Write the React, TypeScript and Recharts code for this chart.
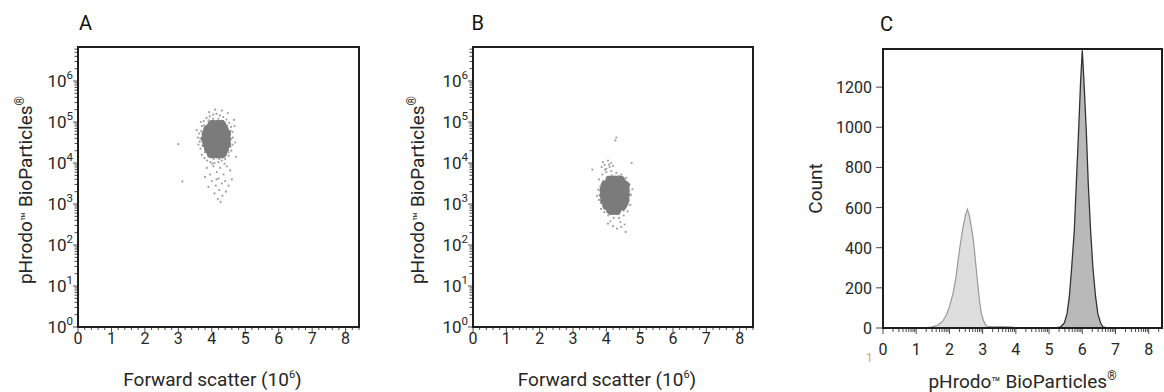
import React from 'react';
import { ScatterChart, Scatter, AreaChart, Area, XAxis, YAxis, Label } from 'recharts';

const FONT = 'Roboto, "Noto Sans", Arial, sans-serif';
const TEXT = '#262626';
const TICK = '#4a4a4a';
const BOX = '#1e1e1e';

// ---------------- data ----------------
// axis tick labels
const fscTicks = [0, 1, 2, 3, 4, 5, 6, 7, 8];
const decadeTicks = [0, 1, 2, 3, 4, 5, 6];
const countTicks = [0, 200, 400, 600, 800, 1000, 1200];
const logTicks = [0, 1, 2, 3, 4, 5, 6, 7, 8];

// Panel A: [forward scatter (10^6), log10 pHrodo intensity] — dense core
const aCore: [number, number][] = [
  [4.02, 4.93], [4.16, 4.93], [4.28, 4.93],
  [3.9, 4.82], [4.05, 4.82], [4.2, 4.82], [4.35, 4.82],
  [3.85, 4.71], [4.0, 4.71], [4.15, 4.71], [4.3, 4.71], [4.42, 4.71],
  [3.83, 4.59], [3.98, 4.59], [4.13, 4.59], [4.28, 4.59], [4.42, 4.59],
  [3.87, 4.47], [4.02, 4.47], [4.17, 4.47], [4.32, 4.47], [4.42, 4.47],
  [3.92, 4.35], [4.07, 4.35], [4.22, 4.35], [4.36, 4.35],
  [4.0, 4.24], [4.15, 4.24], [4.3, 4.24],
];
// Panel A: sparse events
const aSparse: [number, number][] = [
  [3.66, 4.6], [3.68, 4.78], [3.72, 4.42], [3.76, 4.92], [3.8, 4.26], [3.9, 5.04], [3.9, 4.16],
  [4.04, 5.08], [4.06, 4.1], [4.2, 5.08], [4.22, 4.1], [4.34, 5.02], [4.36, 4.16], [4.46, 4.92],
  [4.5, 4.26], [4.56, 4.78], [4.58, 4.58], [4.56, 4.4],
  [3.62, 4.72], [3.64, 4.52], [3.66, 4.35], [3.7, 4.9], [3.7, 4.2], [3.76, 5.02], [3.78, 4.12],
  [3.84, 5.1], [3.86, 4.06], [3.94, 5.14], [3.96, 4.02], [4.04, 5.18], [4.08, 4.0], [4.14, 5.2],
  [4.2, 4.02], [4.24, 5.16], [4.3, 4.06], [4.34, 5.12], [4.4, 4.1], [4.44, 5.06], [4.5, 4.18],
  [4.52, 4.98], [4.58, 4.3], [4.58, 4.88], [4.62, 4.45], [4.63, 4.62], [4.62, 4.76], [3.58, 4.62],
  [3.6, 4.45], [4.68, 4.9], [4.7, 4.5], [4.48, 5.22], [4.3, 5.28], [3.92, 5.24], [4.1, 5.3],
  [4.66, 5.05], [3.55, 4.8], [3.67, 5.0],
  [3.85, 3.88], [3.95, 3.72], [4.05, 3.92], [4.15, 3.78], [4.25, 3.88], [4.35, 3.72], [4.45, 3.92],
  [4.55, 3.82], [4.0, 3.56], [4.2, 3.62], [4.3, 3.5], [4.12, 3.45], [4.4, 3.56], [3.9, 3.42],
  [4.22, 3.34], [4.08, 3.26], [4.32, 3.2], [4.18, 3.12], [4.42, 3.3], [3.8, 3.66], [4.6, 3.6],
  [4.5, 3.45], [4.02, 3.98], [4.38, 3.98], [4.14, 3.6], [4.26, 3.05],
  [3.0, 4.46], [3.12, 3.55], [4.72, 4.15],
];

// Panel B: dense core
const bCore: [number, number][] = [
  [4.12, 3.57], [4.27, 3.57], [4.42, 3.57],
  [3.98, 3.45], [4.13, 3.45], [4.28, 3.45], [4.43, 3.45], [4.55, 3.45],
  [3.95, 3.33], [4.1, 3.33], [4.25, 3.33], [4.4, 3.33], [4.55, 3.33],
  [3.95, 3.21], [4.1, 3.21], [4.25, 3.21], [4.4, 3.21], [4.55, 3.21],
  [3.97, 3.09], [4.12, 3.09], [4.27, 3.09], [4.42, 3.09], [4.54, 3.09],
  [4.04, 2.97], [4.19, 2.97], [4.34, 2.97], [4.47, 2.97],
  [4.15, 2.86], [4.3, 2.86],
];
// Panel B: sparse events
const bSparse: [number, number][] = [
  [3.8, 3.22], [3.82, 3.42], [3.84, 3.02], [3.9, 3.56], [3.92, 2.9], [4.02, 3.66], [4.04, 2.8],
  [4.18, 3.7], [4.2, 2.76], [4.36, 3.68], [4.38, 2.76], [4.5, 3.6], [4.52, 2.84], [4.64, 3.46],
  [4.64, 2.98], [4.7, 3.24],
  [3.78, 3.6], [3.76, 3.35], [3.78, 3.1], [3.84, 2.88], [3.88, 3.72], [4.0, 3.78], [4.15, 3.8],
  [4.3, 3.76], [4.45, 3.72], [4.6, 3.64], [4.7, 3.48], [4.74, 3.22], [4.72, 2.98], [4.64, 2.82],
  [4.52, 2.72], [4.38, 2.66], [4.22, 2.66], [4.06, 2.72], [3.94, 2.8], [4.78, 3.36], [3.72, 3.2],
  [4.12, 2.58], [4.42, 2.56], [3.9, 2.95], [4.66, 3.1],
  [3.95, 3.95], [4.05, 4.06], [4.1, 3.9], [3.9, 4.02], [4.2, 3.93], [4.0, 3.86], [4.14, 4.0],
  [3.86, 3.9], [3.58, 3.84], [4.76, 4.0], [4.27, 4.55], [4.3, 4.62], [4.08, 3.96], [3.96, 3.84],
  [4.2, 2.46], [4.55, 2.5], [4.32, 2.4], [4.58, 2.32], [4.05, 2.52], [4.45, 2.44],
];

// Panel C: histograms [log pHrodo position, count]
const lightHist: [number, number][] = [
  [1.2, 0], [1.45, 4], [1.66, 15], [1.8, 35], [1.91, 65], [2.0, 105], [2.11, 174], [2.2, 255],
  [2.26, 338], [2.34, 430], [2.41, 504], [2.48, 560], [2.54, 592], [2.6, 560], [2.66, 504],
  [2.72, 440], [2.76, 373], [2.81, 290], [2.86, 205], [2.91, 130], [2.96, 73], [3.03, 35],
  [3.11, 10], [3.3, 6], [3.6, 7], [3.9, 4], [4.05, 0],
];
const darkHist: [number, number][] = [
  [5.2, 0], [5.35, 6], [5.46, 25], [5.54, 70], [5.61, 156], [5.68, 300], [5.76, 487], [5.82, 720],
  [5.89, 985], [5.95, 1230], [6.0, 1383], [6.05, 1230], [6.12, 985], [6.18, 720], [6.25, 487],
  [6.32, 300], [6.4, 156], [6.47, 70], [6.55, 25], [6.62, 6], [6.75, 0],
];

// ---------------- helpers ----------------
const X_MAX = 8.4;
const LOG_Y_MAX = 6.83;
const COUNT_MAX = 1390;

const isInt = (v: number) => Math.abs(v - Math.round(v)) < 1e-6;
const linMinor = (step: number, max: number) => {
  const out: number[] = [];
  for (let i = 1; i * step < max + 1e-9; i++) {
    const v = +(i * step).toFixed(4);
    if (!isInt(v)) out.push(v);
  }
  return out;
};
const logMinor = (max: number) => {
  const out: number[] = [];
  for (let n = 0; n <= Math.floor(max); n++) {
    for (let k = 2; k <= 9; k++) {
      const v = n + Math.log10(k);
      if (v < max) out.push(v);
    }
  }
  return out;
};

const toPts = (arr: [number, number][]) => arr.map(([x, y]) => ({ x, y }));
const histTable = [
  ...lightHist.map(([x, c]) => ({ x, light: c })),
  ...darkHist.map(([x, c]) => ({ x, dark: c })),
].sort((a, b) => a.x - b.x);

const fscAxisTicks = [...fscTicks, ...linMinor(0.2, X_MAX)];
const decadeAxisTicks = [...decadeTicks, ...logMinor(LOG_Y_MAX)];
const countAxisTicks = [...countTicks, ...linMinor(50, 1350).filter((v) => v % 200 !== 0)];
const logAxisTicks = [...logTicks, ...logMinor(X_MAX)];

const boxLine = { stroke: BOX, strokeWidth: 2, strokeLinecap: 'square' as const };

// ---------------- tick renderers ----------------
const makeXTick = (labelDy: number, majorLen: number, minorLen: number) => (props: any) => {
  const { x, y, payload } = props;
  const v = payload.value as number;
  const major = isInt(v);
  return (
    <g>
      <line x1={x} x2={x} y1={y + 1} y2={y + 1 + (major ? majorLen : minorLen)} stroke={TICK} strokeWidth={1} />
      {major && (
        <text x={x} y={y + labelDy} textAnchor="middle" fontSize={16} fontFamily={FONT} fill={TEXT}>
          {Math.round(v)}
        </text>
      )}
    </g>
  );
};

const DecadeTick = (props: any) => {
  const { x, y, payload } = props;
  const v = payload.value as number;
  const major = isInt(v);
  return (
    <g>
      <line x1={x - 1} x2={x - 1 - (major ? 4 : 2.5)} y1={y} y2={y} stroke={TICK} strokeWidth={1} />
      {major && (
        <text x={x - 5} y={y + 6} textAnchor="end" fontSize={17} fontFamily={FONT} fill={TEXT}>
          10
          <tspan dy={-8} fontSize={11.5}>
            {Math.round(v)}
          </tspan>
        </text>
      )}
    </g>
  );
};

const CountTick = (props: any) => {
  const { x, y, payload } = props;
  const v = payload.value as number;
  const major = v % 200 === 0;
  return (
    <g>
      <line x1={x - 1} x2={x - 1 - (major ? 6 : 3.5)} y1={y} y2={y} stroke={TICK} strokeWidth={1} />
      {major && (
        <text x={x - 11} y={y + 6} textAnchor="end" fontSize={16} fontFamily={FONT} fill={TEXT}>
          {v}
        </text>
      )}
    </g>
  );
};

// ---------------- titles ----------------
const PhrodoText = ({ x, y, rotate }: { x: number; y: number; rotate: boolean }) => (
  <text
    transform={rotate ? `translate(${x},${y}) rotate(-90)` : `translate(${x},${y})`}
    x={0}
    y={rotate ? 6.7 : 0}
    textAnchor="middle"
    fontSize={19}
    fontFamily={FONT}
    fill={TEXT}
  >
    pHrodo
    <tspan fontSize={15}>™</tspan>
    <tspan fontSize={19}> BioParticles</tspan>
    <tspan fontSize={12} dy={-8}>®</tspan>
  </text>
);

const yPhrodoLabel = (cx: number) => (p: any) => {
  const vb = p.viewBox;
  return <PhrodoText x={cx} y={vb.y + vb.height / 2 + 3} rotate />;
};

const xFscLabel = (p: any) => {
  const vb = p.viewBox;
  return (
    <text x={vb.x + vb.width / 2 - 6} y={vb.y + vb.height} textAnchor="middle" fontSize={19} fontFamily={FONT} fill={TEXT}>
      Forward scatter (10
      <tspan fontSize={11} dy={-8}>6</tspan>
      <tspan dy={8}>)</tspan>
    </text>
  );
};

const countLabel = (p: any) => {
  const vb = p.viewBox;
  const cy = vb.y + vb.height / 2;
  return (
    <text transform={`translate(35,${cy}) rotate(-90)`} x={0} y={6.7} textAnchor="middle" fontSize={19} fontFamily={FONT} fill={TEXT}>
      Count
    </text>
  );
};

const xPhrodoLabel = (p: any) => {
  const vb = p.viewBox;
  return <PhrodoText x={vb.x + vb.width / 2} y={vb.y + vb.height - 2} rotate={false} />;
};

// ---------------- panels ----------------
const coreShape = (p: any) => <circle cx={p.cx} cy={p.cy} r={5.2} fill="#7b7b7b" />;
const sparseShape = (p: any) => <circle cx={p.cx} cy={p.cy} r={1.1} fill="#8f8f8f" fillOpacity={0.85} />;

const DotPlot = ({
  core,
  sparse,
  left,
  yAxisWidth,
  marginRight,
  yLabelX,
}: {
  core: [number, number][];
  sparse: [number, number][];
  left: number;
  yAxisWidth: number;
  marginRight: number;
  yLabelX: number;
}) => (
  <div style={{ position: 'absolute', left, top: 0 }}>
    <ScatterChart width={390} height={392} margin={{ top: 46, right: marginRight, bottom: 6, left: 0 }}>
      <XAxis
        type="number"
        dataKey="x"
        domain={[0, X_MAX]}
        ticks={fscAxisTicks}
        interval={0}
        allowDataOverflow
        axisLine={boxLine}
        tickLine={false}
        tickSize={0}
        tickMargin={0}
        height={59}
        tick={makeXTick(16.5, 4, 2)}
      >
        <Label content={xFscLabel} />
      </XAxis>
      <XAxis xAxisId="top" orientation="top" type="number" domain={[0, X_MAX]} height={1} tick={false} tickLine={false} axisLine={boxLine} />
      <YAxis
        type="number"
        dataKey="y"
        domain={[0, LOG_Y_MAX]}
        ticks={decadeAxisTicks}
        interval={0}
        allowDataOverflow
        axisLine={boxLine}
        tickLine={false}
        tickSize={0}
        tickMargin={0}
        width={yAxisWidth}
        tick={DecadeTick}
      >
        <Label content={yPhrodoLabel(yLabelX)} />
      </YAxis>
      <YAxis yAxisId="right" orientation="right" type="number" domain={[0, LOG_Y_MAX]} width={1} tick={false} tickLine={false} axisLine={boxLine} />
      <Scatter data={toPts(sparse)} shape={sparseShape} isAnimationActive={false} />
      <Scatter data={toPts(core)} shape={coreShape} isAnimationActive={false} />
    </ScatterChart>
  </div>
);

const HistPlot = () => (
  <div style={{ position: 'absolute', left: 780, top: 0 }}>
    <AreaChart width={384} height={392} data={histTable} margin={{ top: 48, right: 1, bottom: 2, left: 0 }}>
      <XAxis
        type="number"
        dataKey="x"
        domain={[0, X_MAX]}
        ticks={logAxisTicks}
        interval={0}
        allowDataOverflow
        axisLine={boxLine}
        tickLine={false}
        tickSize={0}
        tickMargin={0}
        height={62}
        tick={makeXTick(27, 5, 3)}
      >
        <Label content={xPhrodoLabel} />
      </XAxis>
      <XAxis xAxisId="top" orientation="top" type="number" domain={[0, X_MAX]} height={1} tick={false} tickLine={false} axisLine={boxLine} />
      <YAxis
        type="number"
        domain={[0, COUNT_MAX]}
        ticks={countAxisTicks}
        interval={0}
        allowDataOverflow
        axisLine={boxLine}
        tickLine={false}
        tickSize={0}
        tickMargin={0}
        width={103}
        tick={CountTick}
      >
        <Label content={countLabel} />
      </YAxis>
      <YAxis yAxisId="right" orientation="right" type="number" domain={[0, COUNT_MAX]} width={1} tick={false} tickLine={false} axisLine={boxLine} />
      <Area
        type="linear"
        dataKey="light"
        connectNulls
        fill="#dedede"
        fillOpacity={1}
        stroke="#9a9a9a"
        strokeWidth={1.2}
        isAnimationActive={false}
        dot={false}
        activeDot={false}
      />
      <Area
        type="linear"
        dataKey="dark"
        connectNulls
        fill="#b9b9b9"
        fillOpacity={1}
        stroke="#333333"
        strokeWidth={1.3}
        isAnimationActive={false}
        dot={false}
        activeDot={false}
      />
    </AreaChart>
  </div>
);

export default function App() {
  return (
    <div style={{ position: 'absolute', left: 0, top: 0, width: 1164, height: 392, background: '#fff', fontFamily: FONT }}>
      <DotPlot core={aCore} sparse={aSparse} left={0} yAxisWidth={78} marginRight={30} yLabelX={25} />
      <DotPlot core={bCore} sparse={bSparse} left={390} yAxisWidth={83} marginRight={26} yLabelX={27.5} />
      <HistPlot />
      <svg width={1164} height={392} style={{ position: 'absolute', left: 0, top: 0, pointerEvents: 'none' }}>
        <text x={79} y={30} fontSize={20} fontFamily={FONT} fill="#111">A</text>
        <text x={471.5} y={30} fontSize={20} fontFamily={FONT} fill="#111">B</text>
        <text x={880} y={31} fontSize={20} fontFamily={FONT} fill="#111">C</text>
        <text x={866} y={362} fontSize={12} fontFamily={FONT} fill="#e39a66">1</text>
      </svg>
    </div>
  );
}
